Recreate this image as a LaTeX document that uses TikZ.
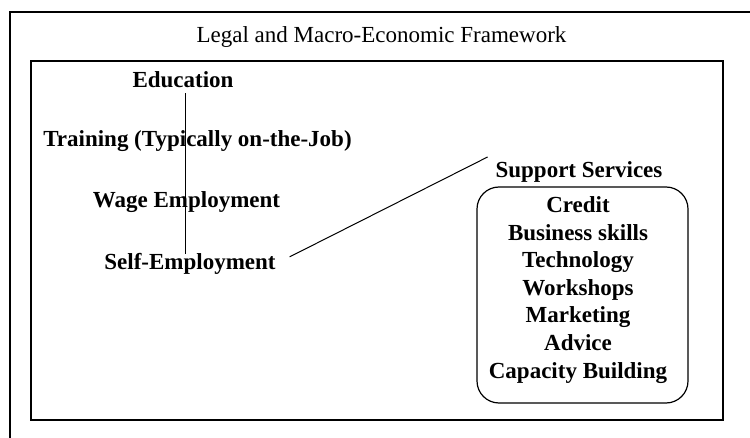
\documentclass[tikz,border=0pt]{standalone}
\usepackage{fontspec}
\setmainfont{Liberation Serif}
\begin{document}
\begin{tikzpicture}[x=1pt,y=-1pt,
  frame/.style={line width=1.6pt},
  link/.style={line width=1pt},
  label/.style={inner sep=0pt,outer sep=0pt,anchor=base,
    font=\fontsize{23}{27.5}\selectfont\bfseries},
  heading/.style={inner sep=0pt,outer sep=0pt,anchor=base,
    font=\fontsize{23}{27.5}\selectfont},
  servicebox/.style={draw,line width=1.2pt,rounded corners=22pt,
    minimum width=211pt,minimum height=216pt,inner sep=0pt}]
\useasboundingbox (0,0) rectangle (750,438);
\clip (0,0) rectangle (750,438);

% outer framework box (runs past the page on the right and bottom)
\draw[frame] (770,12) -- (10,12) -- (10,460);
\node[heading] (title) at (381.5,43) {Legal and Macro-Economic Framework};

% inner box
\draw[frame] (31,61) rectangle (723,420);

% career path
\node[label] (edu)   at (183,88)  {Education};
\node[label] (train) at (197.5,147) {Training (Typically on-the-Job)};
\node[label] (wage)  at (186.5,208) {Wage Employment};
\node[label] (self)  at (190,270) {Self-Employment};

% support services
\node[label] (support) at (579,178) {Support Services};
\node[servicebox] (services) at (582.5,295) {};
\foreach \i/\t [count=\k from 0] in {1/Credit,2/Business skills,3/Technology,
    4/Workshops,5/Marketing,6/Advice,7/Capacity Building}
  \node[label] (item\i) at (578,213+27.5*\k) {\t};

% connectors
\draw[link] ([shift={(2,5)}]edu.south) -- ([xshift=2pt]edu.south |- self.north);
\draw[link] ([shift={(14,-7.5)}]self.east) -- ([shift={(-8,-15.5)}]support.west);
\end{tikzpicture}
\end{document}
